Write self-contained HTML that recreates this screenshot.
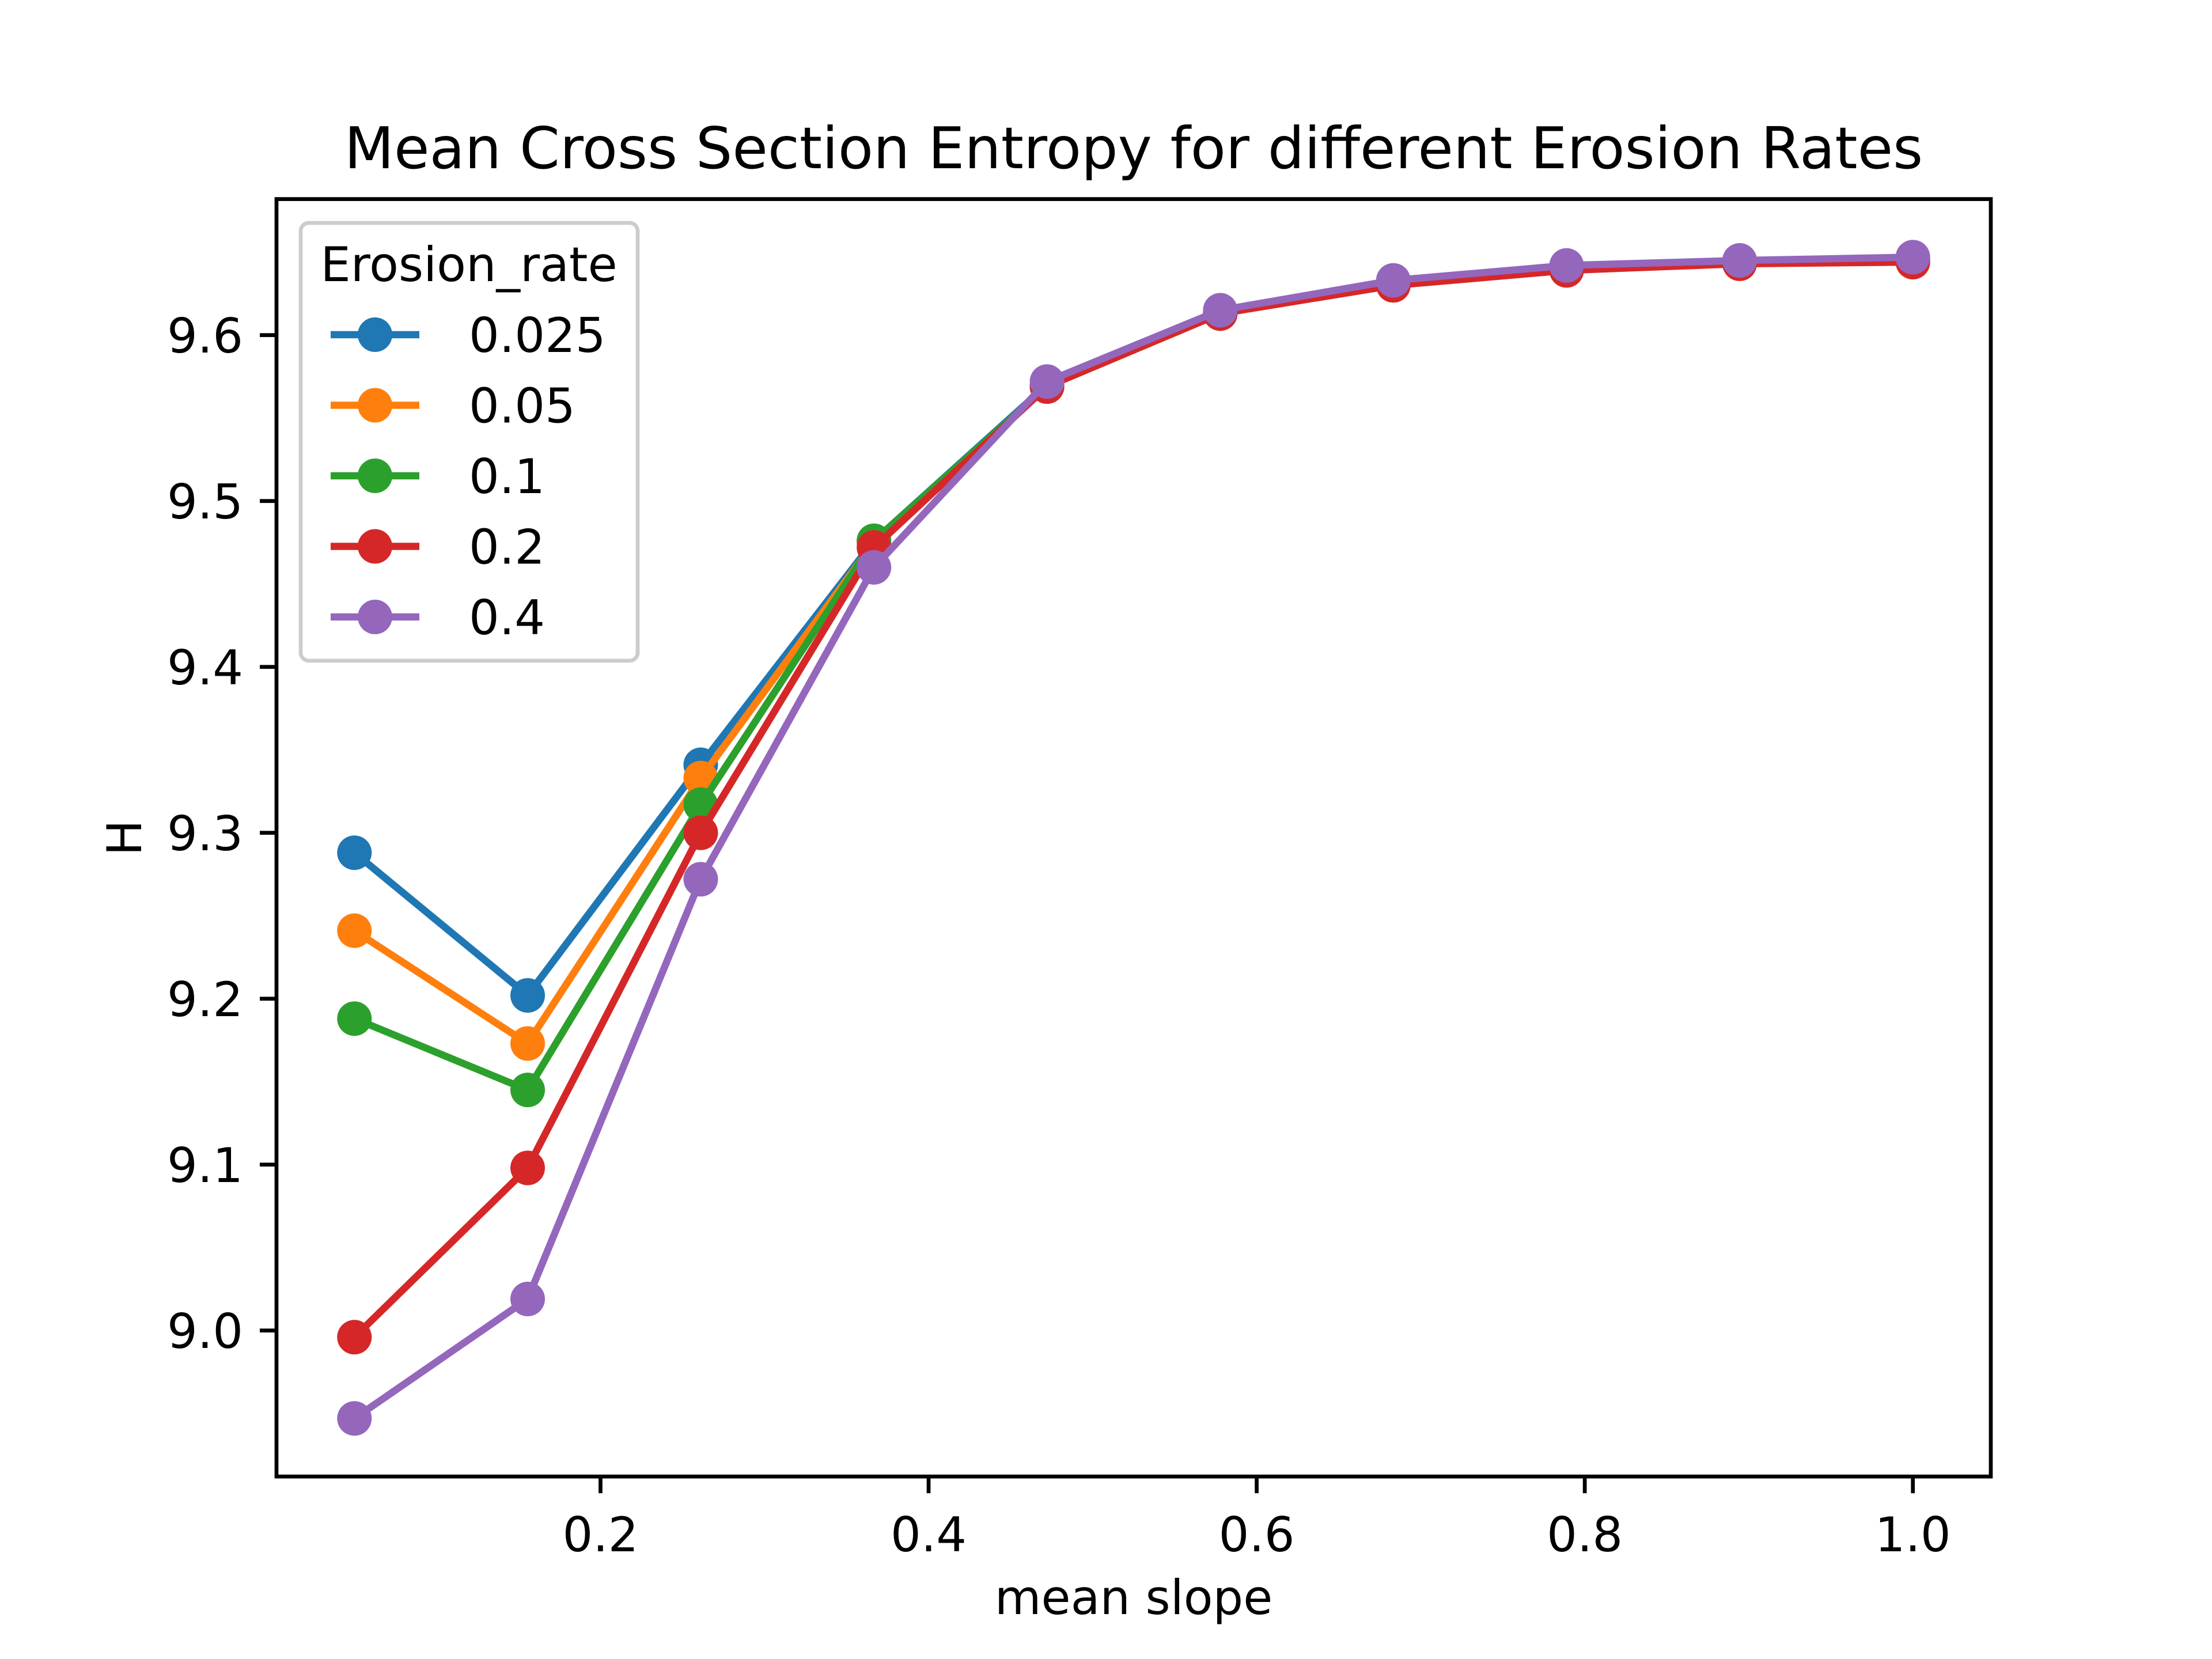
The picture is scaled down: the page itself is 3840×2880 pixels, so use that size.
<!DOCTYPE html>
<html><head><meta charset="utf-8">
<style>html,body{margin:0;padding:0;background:#fff}svg{display:block}</style>
</head><body>
<svg id="chart" width="3840" height="2880" viewBox="0 0 3840 2880" xmlns="http://www.w3.org/2000/svg" font-family="'DejaVu Sans','Liberation Sans',sans-serif">
<rect width="3840" height="2880" fill="#fff"/>
<g id="plot"></g>
</svg>
<script>
const xValues = [0.05, 0.1556, 0.2611, 0.3667, 0.4722, 0.5778, 0.6833, 0.7889, 0.8944, 1.0];
const seriesNames = ["0.025", "0.05", "0.1", "0.2", "0.4"];
const series0025 = [9.288, 9.202, 9.341, 9.476, 9.570, 9.614, 9.632, 9.641, 9.645, 9.646];
const series005 = [9.241, 9.173, 9.333, 9.475, 9.569, 9.613, 9.631, 9.640, 9.644, 9.645];
const series01 = [9.188, 9.145, 9.317, 9.476, 9.569, 9.613, 9.631, 9.640, 9.644, 9.645];
const series02 = [8.996, 9.098, 9.300, 9.472, 9.569, 9.613, 9.630, 9.639, 9.643, 9.644];
const series04 = [8.947, 9.019, 9.272, 9.460, 9.572, 9.615, 9.633, 9.642, 9.645, 9.647];
const xTicks = [0.2, 0.4, 0.6, 0.8, 1.0];
const xTickLabels = ["0.2", "0.4", "0.6", "0.8", "1.0"];
const yTicks = [9.0, 9.1, 9.2, 9.3, 9.4, 9.5, 9.6];
const yTickLabels = ["9.0", "9.1", "9.2", "9.3", "9.4", "9.5", "9.6"];

const allSeries = [series0025, series005, series01, series02, series04];
const colors = ["#1f77b4", "#ff7f0e", "#2ca02c", "#d62728", "#9467bd"];
const L = 480, R = 3456, T = 345.6, B = 2563.2;
const xmin = 0.0025, xmax = 1.0475;
const MR = 30;
let ymin = Infinity, ymax = -Infinity;
allSeries.forEach(s => s.forEach(v => { ymin = Math.min(ymin, v); ymax = Math.max(ymax, v); }));
const pad = (ymax - ymin) * 0.05; ymin -= pad; ymax += pad;
const sx = v => L + (v - xmin) / (xmax - xmin) * (R - L);
const sy = v => B - (v - ymin) / (ymax - ymin) * (B - T);
const NS = "http://www.w3.org/2000/svg";
const g = document.getElementById("plot");
function mk(tag, attrs, parent) {
  const e = document.createElementNS(NS, tag);
  for (const k in attrs) e.setAttribute(k, attrs[k]);
  (parent || g).appendChild(e);
  return e;
}
allSeries.forEach((s, i) => {
  const sg = mk("g", {});
  
  
  const pts = s.map((v, j) => sx(xValues[j]).toFixed(1) + "," + sy(v).toFixed(1)).join(" ");
  const pl = mk("polyline", {points: pts, fill: "none", stroke: colors[i], "stroke-width": 12.5, "stroke-linejoin": "round", "stroke-linecap": "square"}, sg);
  
  
  s.forEach((v, j) => {
    const c = mk("circle", {cx: sx(xValues[j]), cy: sy(v), r: MR, fill: colors[i]}, sg);
    
    
  });
});
const frame = mk("rect", {x: L, y: T, width: R - L, height: B - T, fill: "none", stroke: "#000", "stroke-width": 6.7});


xTicks.forEach((v, i) => {
  const x = sx(v);
  const t = mk("line", {x1: x, x2: x, y1: B, y2: B + 29, stroke: "#000", "stroke-width": 6.7});
  
  
  const tx = mk("text", {x: x, y: B + 130, "font-size": 83, "text-anchor": "middle", fill: "#000"});
  tx.textContent = xTickLabels[i];
  
  
});
yTicks.forEach((v, i) => {
  const y = sy(v);
  const t = mk("line", {x1: L - 29, x2: L, y1: y, y2: y, stroke: "#000", "stroke-width": 6.7});
  
  
  const tx = mk("text", {x: L - 58, y: y + 30, "font-size": 83, "text-anchor": "end", fill: "#000"});
  tx.textContent = yTickLabels[i];
  
  
});
const title = mk("text", {x: (L + R) / 2, y: 292, "font-size": 100, "text-anchor": "middle", fill: "#000"});
title.textContent = "Mean Cross Section Entropy for different Erosion Rates";


const xl = mk("text", {x: (L + R) / 2, y: 2802, "font-size": 83, "text-anchor": "middle", fill: "#000"});
xl.textContent = "mean slope";


const yl = mk("text", {x: 0, y: 0, "font-size": 83, "text-anchor": "middle", fill: "#000", transform: "translate(245," + ((T + B) / 2) + ") rotate(-90)"});
yl.textContent = "H";


const lg = mk("g", {});


const lb = mk("rect", {x: 522, y: 387, width: 585, height: 760, rx: 14, fill: "#fff", "fill-opacity": 0.8, stroke: "#ccc", "stroke-width": 6.7}, lg);


const lt = mk("text", {x: 814, y: 488, "font-size": 83, "text-anchor": "middle", fill: "#000"}, lg);
lt.textContent = "Erosion_rate";


seriesNames.forEach((n, i) => {
  const y = 581 + i * 122.5;
  const eg = mk("g", {}, lg);
  
  
  mk("line", {x1: 574, x2: 728, y1: y, y2: y, stroke: colors[i], "stroke-width": 12.5}, eg);
  mk("circle", {cx: 651, cy: y, r: MR, fill: colors[i]}, eg);
  const t = mk("text", {x: 814, y: y + 30, "font-size": 83, fill: "#000"}, eg);
  t.textContent = n;
});
</script>
</body></html>
